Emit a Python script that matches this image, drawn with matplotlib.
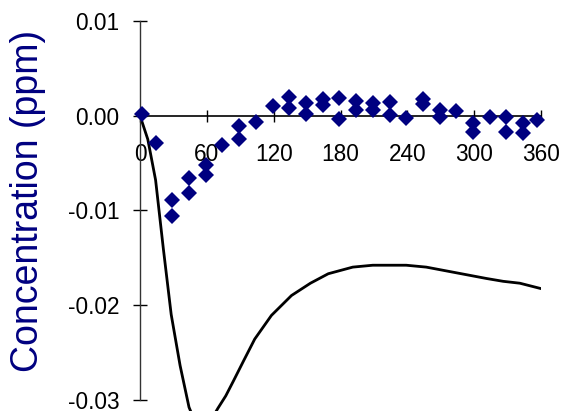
import matplotlib
matplotlib.use("Agg")
import matplotlib.pyplot as plt

# ---------- Dados ----------

# Pontos medidos (losangos)
obs_x = [2, 14, 29, 29, 44, 44, 59, 59, 74, 89, 89, 104, 119, 134, 134,
         149, 149, 164, 164, 179, 179, 194, 194, 209, 209, 224, 224, 239,
         254, 254, 269, 269, 284, 299, 299, 314, 329, 329, 344, 344, 356]
obs_y = [0.0002, -0.0029, -0.0089, -0.0106, -0.0066, -0.0082, -0.0052, -0.0063,
         -0.0031, -0.0011, -0.0025, -0.0007, 0.0010, 0.0020, 0.0008,
         0.0013, 0.0002, 0.0018, 0.0011, 0.0019, -0.0003, 0.0015, 0.0006,
         0.0013, 0.0006, 0.0014, 0.0001, -0.0002, 0.0018, 0.0012,
         0.0006, -0.0001, 0.0005, -0.0008, -0.0017, -0.0001, -0.0001, -0.0017,
         -0.0008, -0.0018, -0.0005]

# Curva do modelo (linha preta)
model_x = [0, 7, 14, 21, 28, 36, 44, 50, 57, 63, 70, 77, 84, 93, 103, 118,
           136, 153, 169, 191, 209, 224, 239, 257, 275, 293, 311, 326, 341, 361]
model_y = [0.0, -0.0025, -0.0068, -0.0141, -0.0210, -0.0264, -0.0308, -0.0325,
           -0.0330, -0.0323, -0.0309, -0.0296, -0.0280, -0.0259, -0.0236,
           -0.0211, -0.0190, -0.0177, -0.0167, -0.0160, -0.0158, -0.0158,
           -0.0158, -0.0160, -0.0164, -0.0168, -0.0172, -0.0175, -0.0177,
           -0.0183]

x_ticks = [0, 60, 120, 180, 240, 300, 360]
y_ticks = [-0.03, -0.02, -0.01, 0.00, 0.01]

# ---------- Plotagem ----------

plt.rcParams['font.family'] = ['Liberation Sans', 'DejaVu Sans']
plt.rcParams['axes.unicode_minus'] = False

fig = plt.figure(figsize=(5.65, 4.11), dpi=100)
ax = fig.add_axes([140 / 565, 0.0, 401 / 565, 0.9489])

ax.plot(model_x, model_y, color='black', linewidth=2.0, zorder=2,
        solid_joinstyle='round')
ax.plot(obs_x, obs_y, linestyle='none', marker='D', markersize=8,
        color='#000080', markeredgewidth=0, zorder=3, clip_on=False)

ax.set_xlim(0, 360)
ax.set_ylim(-0.0312, 0.01)

for s in ['top', 'right']:
    ax.spines[s].set_visible(False)
ax.spines['bottom'].set_position(('data', 0))
ax.spines['bottom'].set_linewidth(1.2)
ax.spines['left'].set_bounds(-0.03, 0.01)
ax.spines['left'].set_linewidth(1.0)
ax.spines['left'].set_color('#333333')

ax.set_xticks(x_ticks)
ax.set_xticklabels([str(v) for v in x_ticks])
ax.set_yticks(y_ticks)
ax.set_yticklabels(['%.2f' % v for v in y_ticks])
ax.tick_params(axis='x', direction='inout', length=9, width=1, pad=15, labelsize=16.3)
ax.tick_params(axis='y', direction='inout', length=10, width=1, pad=10, labelsize=16.3)

fig.text(28 / 565, 1 - 201 / 411, 'Concentration (ppm)', rotation=90,
         ha='center', va='center', fontsize=27, color='#000080')

fig.savefig('out.png', dpi=100)
